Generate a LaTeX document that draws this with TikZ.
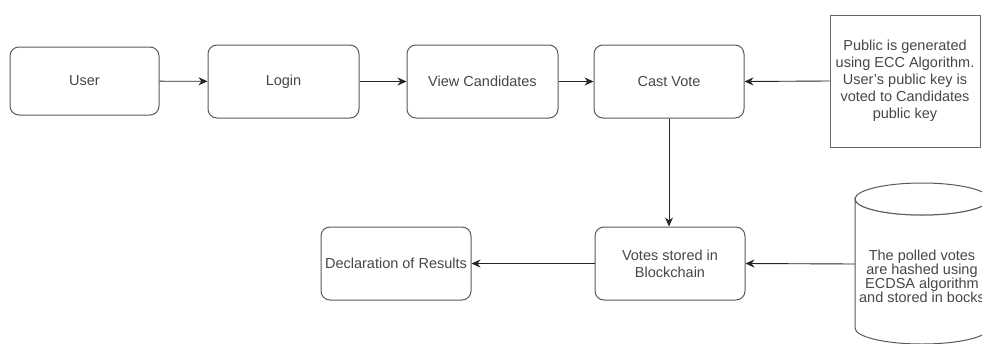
\documentclass[tikz,border=0pt]{standalone}
\usepackage{fontspec}
\setmainfont{Liberation Sans}
\usetikzlibrary{arrows.meta}
\begin{document}
\begin{tikzpicture}[x=1pt,y=-1pt,
 box/.style={draw=black!65, line width=1pt, rounded corners=9pt, fill=white, text=black!72,
   font=\fontsize{14.5}{17}\selectfont, align=center, inner sep=0pt},
 note/.style={draw=black!60, line width=1pt, fill=white, text=black!72,
   font=\fontsize{14.5}{17}\selectfont, align=center, inner sep=0pt},
 conn/.style={draw=black!85, line width=0.9pt, -{Stealth[length=9pt,width=8pt]}},
 cyl/.style={draw=black!65, line width=1pt, fill=white}]
\useasboundingbox (0,0) rectangle (982,343);
\clip (0,0) rectangle (982,343);
\node[box, minimum width=149pt, minimum height=68pt] (user) at (84.5,81) {User};
\node[box, minimum width=151pt, minimum height=73pt] (login) at (283.5,81.5) {Login};
\node[box, minimum width=151pt, minimum height=73pt] (view) at (482.5,81.5) {View Candidates};
\node[box, minimum width=150pt, minimum height=73pt] (cast) at (669,81.5) {Cast Vote};
\node[note, minimum width=150pt, minimum height=132pt] (pub) at (905,81) {Public is generated\\using ECC Algorithm.\\User's public key is\\voted to Candidates\\public key};
\node[box, minimum width=150pt, minimum height=73pt] (votes) at (670,263.5) {Votes stored in\\Blockchain};
\node[box, minimum width=150pt, minimum height=73pt] (decl) at (396,263.5) {Declaration of Results};
% cylinder
\path[cyl] (855,199) -- (855,328) arc[start angle=180,end angle=0,x radius=67,y radius=16] -- (989,199) arc[start angle=0,end angle=180,x radius=67,y radius=16] -- cycle;
\draw[cyl] (922,199) ellipse[x radius=67, y radius=16];
\node[text=black!72, font=\fontsize{14.5}{14}\selectfont, align=center, inner sep=0pt] (dbtext) at (922,276) {The polled votes\\are hashed using\\ECDSA algorithm\\and stored in bocks};
\coordinate (db) at (855,264);
% connectors
\draw[conn] (user) -- (login);
\draw[conn] (login) -- (view);
\draw[conn] (view) -- (cast);
\draw[conn] (pub.west) -- (cast.east);
\draw[conn] (cast.south) -- (cast.south |- votes.north);
\draw[conn] (db) -- (votes.east);
\draw[conn] (votes.west) -- (decl.east);
\end{tikzpicture}
\end{document}
